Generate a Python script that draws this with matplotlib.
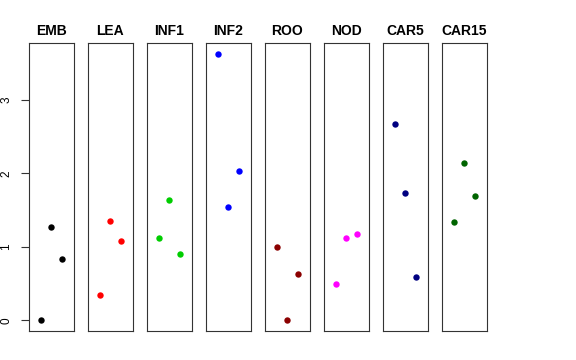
import matplotlib
matplotlib.use("Agg")
import matplotlib.pyplot as plt

plt.rcParams['font.family'] = ['Liberation Sans', 'DejaVu Sans']

# tissues and the three values per tissue (left to right in each panel)
tissues = ["EMB", "LEA", "INF1", "INF2", "ROO", "NOD", "CAR5", "CAR15"]
values = {
    "EMB":   [0.0, 1.267, 0.839],
    "LEA":   [0.340, 1.356, 1.084],
    "INF1":  [1.117, 1.634, 0.903],
    "INF2":  [3.631, 1.539, 2.033],
    "ROO":   [0.998, 0.0, 0.635],
    "NOD":   [0.498, 1.125, 1.179],
    "CAR5":  [2.673, 1.738, 0.594],
    "CAR15": [1.335, 2.146, 1.693],
}
colors = ["black", "#FF0000", "#00CD00", "#0000FF", "#8B0000", "#FF00FF", "#000080", "#006400"]
xpos = [1, 2, 3]
yticks = [0, 1, 2, 3]

W, H = 576, 360
fig = plt.figure(figsize=(W / 100, H / 100), dpi=100)

ymax = max(max(v) for v in values.values())
ext = ymax * 0.04

left0, step, pw = 29.0, 59.0, 44.6
top, bottom = 43.0, 331.0

for i, name in enumerate(tissues):
    x0 = left0 + i * step
    ax = fig.add_axes([x0 / W, (H - bottom) / H, pw / W, (bottom - top) / H])
    ax.plot(xpos, values[name], 'o', color=colors[i], markersize=4.6, markeredgewidth=0)
    ax.set_xlim(-0.15, 4.15)
    ax.set_ylim(-ext, ymax + ext)
    ax.set_xticks([])
    for s in ax.spines.values():
        s.set_color("#333333")
        s.set_linewidth(0.8)
    ax.set_title(name, fontweight="bold", fontsize=10, pad=5.6)
    if i == 0:
        ax.set_yticks(yticks)
        ax.set_yticklabels([str(t) for t in yticks], rotation=90, va="center", fontsize=8.5)
        ax.tick_params(axis="y", length=6, width=0.8, color="#333333", pad=6)
    else:
        ax.set_yticks([])

fig.savefig("out.png", dpi=100)
